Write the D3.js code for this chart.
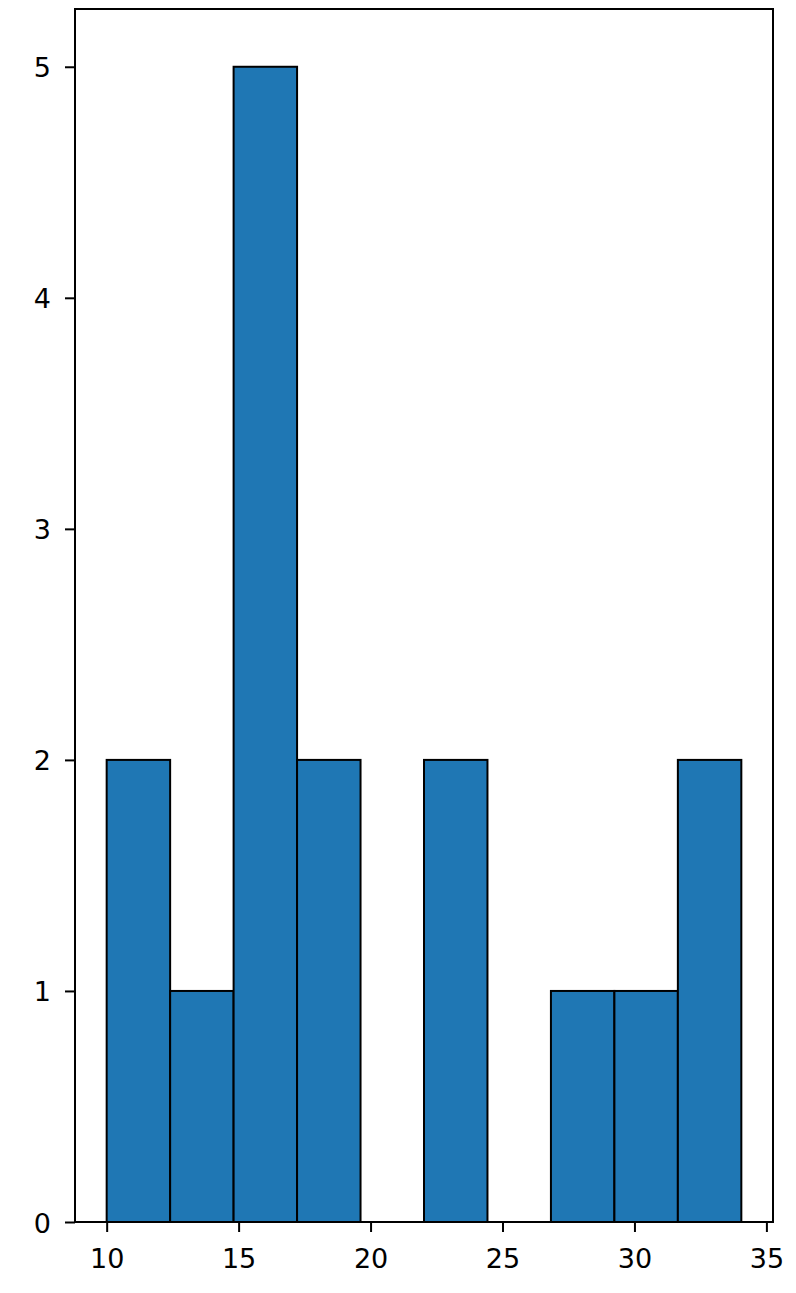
<!DOCTYPE html>
<html>
<head>
<meta charset="utf-8">
<script src="https://cdn.jsdelivr.net/npm/d3@7"></script>
<style>
  html, body { margin: 0; padding: 0; background: #fff; }
  svg { display: block; }
  text { font-family: "DejaVu Sans", sans-serif; fill: #000; }
</style>
</head>
<body>
<div id="chart"></div>
<script>
// Histogram bins (edges) and counts
const binEdges = [10, 12.405, 14.81, 17.215, 19.62, 22.025, 24.43, 26.835, 29.24, 31.645, 34.05];
const counts = [2, 1, 5, 2, 0, 2, 0, 1, 1, 2];
const xTicks = [10, 15, 20, 25, 30, 35];
const yTicks = [0, 1, 2, 3, 4, 5];

const W = 796, H = 1293;
const mLeft = 75, mRight = 773, mTop = 9, mBottom = 1222;

const svg = d3.select("#chart").append("svg").attr("width", W).attr("height", H);

const x = d3.scaleLinear().domain([8.8, 35.25]).range([mLeft, mRight]);
const y = d3.scaleLinear().domain([0, 5.25]).range([mBottom, mTop]);

const bins = counts.map((c, i) => ({ x0: binEdges[i], x1: binEdges[i + 1], c }));

svg.append("g").selectAll("rect").data(bins).join("rect")
  .attr("x", d => x(d.x0))
  .attr("y", d => y(d.c))
  .attr("width", d => x(d.x1) - x(d.x0))
  .attr("height", d => y(0) - y(d.c))
  .attr("fill", "#1f77b4")
  .attr("stroke", "#000")
  .attr("stroke-width", 2);

// Axes
const xAxis = d3.axisBottom(x).tickValues(xTicks).tickSize(10).tickPadding(0).tickFormat(d3.format("d"));
const gx = svg.append("g").attr("transform", `translate(0,${mBottom})`).call(xAxis);
gx.select(".domain").remove();
gx.selectAll(".tick line").attr("stroke", "#000").attr("stroke-width", 2);
gx.selectAll(".tick text").attr("y", 46).attr("dy", null)
  .attr("font-size", 27).attr("font-family", "DejaVu Sans, sans-serif").attr("fill", "#000");

const yAxis = d3.axisLeft(y).tickValues(yTicks).tickSize(10).tickPadding(0).tickFormat(d3.format("d"));
const gy = svg.append("g").attr("transform", `translate(${mLeft},0)`).call(yAxis);
gy.select(".domain").remove();
gy.selectAll(".tick line").attr("stroke", "#000").attr("stroke-width", 2);
gy.selectAll(".tick text").attr("x", -24).attr("dy", null).attr("y", 10)
  .attr("font-size", 27).attr("font-family", "DejaVu Sans, sans-serif").attr("fill", "#000");

// Frame (spines)
svg.append("rect")
  .attr("x", mLeft).attr("y", mTop)
  .attr("width", mRight - mLeft).attr("height", mBottom - mTop)
  .attr("fill", "none").attr("stroke", "#000").attr("stroke-width", 2);
</script>
</body>
</html>
